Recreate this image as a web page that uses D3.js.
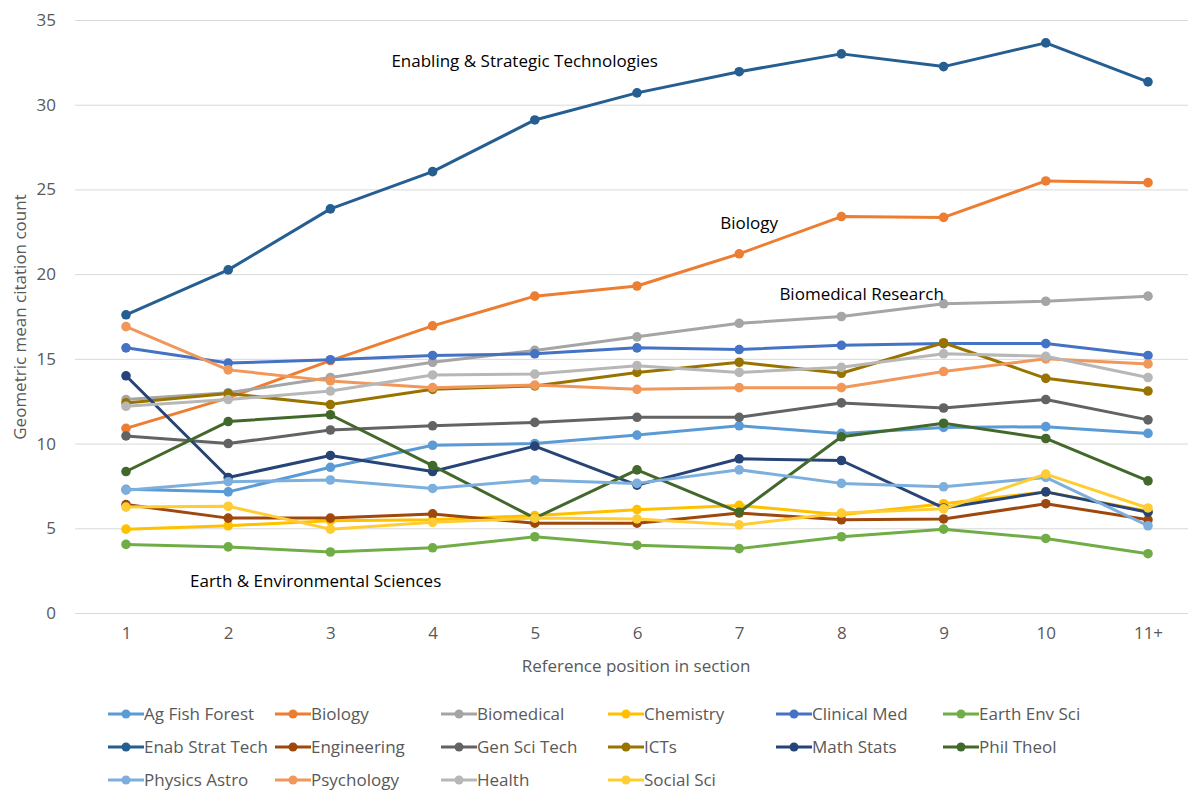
<!DOCTYPE html>
<html><head><meta charset="utf-8">
<script src="https://cdn.jsdelivr.net/npm/d3@7"></script>
<style>body{margin:0;background:#fff;} svg{display:block;} text{font-family:"Open Sans",sans-serif;}</style>
</head><body><svg id="c" width="1188" height="793"></svg>
<script>
const categories = ["1","2","3","4","5","6","7","8","9","10","11+"];
const yTicks = [0,5,10,15,20,25,30,35];

const agFishForest = [7.3,7.15,8.6,9.9,10.0,10.5,11.05,10.6,10.95,11.0,10.6];
const biology      = [10.9,12.7,14.9,16.95,18.7,19.3,21.2,23.4,23.35,25.5,25.4];
const biomedical   = [12.6,13.0,13.9,14.8,15.5,16.3,17.1,17.5,18.25,18.4,18.7];
const chemistry    = [4.95,5.15,5.45,5.5,5.75,6.1,6.35,5.8,6.45,7.15,6.0];
const clinicalMed  = [15.65,14.75,14.95,15.2,15.3,15.65,15.55,15.8,15.9,15.9,15.2];
const earthEnvSci  = [4.05,3.9,3.6,3.85,4.5,4.0,3.8,4.5,4.95,4.4,3.5];
const enabStratTech= [17.6,20.25,23.85,26.05,29.1,30.7,31.95,33.0,32.25,33.65,31.35];
const engineering  = [6.4,5.6,5.6,5.85,5.3,5.3,5.9,5.5,5.55,6.45,5.5];
const genSciTech   = [10.45,10.0,10.8,11.05,11.25,11.55,11.55,12.4,12.1,12.6,11.4];
const icts         = [12.4,12.95,12.3,13.2,13.4,14.2,14.8,14.15,15.95,13.85,13.1];
const mathStats    = [14.0,8.0,9.3,8.35,9.85,7.55,9.1,9.0,6.2,7.15,5.95];
const philTheol    = [8.35,11.3,11.7,8.7,5.6,8.45,5.95,10.4,11.2,10.3,7.8];
const physicsAstro = [7.25,7.75,7.85,7.35,7.85,7.65,8.45,7.65,7.45,8.0,5.15];
const psychology   = [16.9,14.35,13.7,13.3,13.45,13.2,13.3,13.3,14.25,15.0,14.7];
const health       = [12.2,12.6,13.1,14.05,14.1,14.6,14.2,14.5,15.3,15.15,13.9];
const socialSci    = [6.25,6.3,4.95,5.35,5.6,5.55,5.2,5.9,6.15,8.2,6.2];

const seriesNames = ["Ag Fish Forest","Biology","Biomedical","Chemistry","Clinical Med","Earth Env Sci",
  "Enab Strat Tech","Engineering","Gen Sci Tech","ICTs","Math Stats","Phil Theol",
  "Physics Astro","Psychology","Health","Social Sci"];
const seriesValues = [agFishForest,biology,biomedical,chemistry,clinicalMed,earthEnvSci,
  enabStratTech,engineering,genSciTech,icts,mathStats,philTheol,physicsAstro,psychology,health,socialSci];
const seriesColors = ["#5B9BD5","#ED7D31","#A5A5A5","#FFC000","#4472C4","#70AD47",
  "#255E91","#9E480E","#636363","#997300","#264478","#43682B",
  "#7CAFDD","#F1975A","#B7B7B7","#FFCD33"];

const annotations = [
  {text:"Enabling & Strategic Technologies", cat:"3", val:32.55, dx:61},
  {text:"Biology", cat:"7", val:23.0, dx:-19},
  {text:"Biomedical Research", cat:"8", val:18.8, dx:-62},
  {text:"Earth & Environmental Sciences", cat:"1", val:1.9, dx:64}
];

const FS = "17px";
const svg = d3.select("#c");
const x = d3.scalePoint().domain(categories).range([126,1148]);
const y = d3.scaleLinear().domain([0,35]).range([613,20]);

// gridlines
svg.append("g").selectAll("line").data(yTicks).join("line")
  .attr("x1",75).attr("x2",1200).attr("y1",d=>y(d)+0.5).attr("y2",d=>y(d)+0.5)
  .attr("stroke","#D9D9D9").attr("stroke-width",1);

// y axis labels
const yAxis = d3.axisLeft(y).tickValues(yTicks).tickSize(0).tickPadding(0);
const gy = svg.append("g").attr("transform","translate(56,0)").call(yAxis);
gy.select(".domain").remove();
gy.selectAll("text").attr("fill","#595959").style("font-size",FS).style("font-family","'Open Sans',sans-serif");

// x axis labels
const xAxis = d3.axisBottom(x).tickSize(0).tickPadding(0);
const gx = svg.append("g").attr("transform","translate(0,627)").call(xAxis);
gx.select(".domain").remove();
gx.selectAll("text").attr("fill","#595959").style("font-size",FS).style("font-family","'Open Sans',sans-serif");

// axis titles
svg.append("text").attr("x",636).attr("y",666).attr("dy","0.35em").attr("text-anchor","middle")
  .attr("fill","#595959").style("font-size",FS).text("Reference position in section");
svg.append("text").attr("transform","translate(20,317) rotate(-90)").attr("dy","0.35em").attr("text-anchor","middle")
  .attr("fill","#595959").style("font-size",FS).text("Geometric mean citation count");

// lines
const line = d3.line().x((d,i)=>x(categories[i])).y(d=>y(d));
seriesValues.forEach((vals,si)=>{
  const g = svg.append("g");
  g.append("path").attr("d",line(vals)).attr("fill","none")
    .attr("stroke",seriesColors[si]).attr("stroke-width",3).attr("stroke-linejoin","round");
  g.selectAll("circle").data(vals).join("circle")
    .attr("cx",(d,i)=>x(categories[i])).attr("cy",d=>y(d)).attr("r",4.8)
    .attr("fill",seriesColors[si]);
});

// annotations
svg.append("g").selectAll("text").data(annotations).join("text")
  .attr("x",d=>x(d.cat)+d.dx).attr("y",d=>y(d.val)).attr("dy","0.35em")
  .attr("fill","#000").style("font-size",FS).text(d=>d.text);

// legend
const legX = [108,275,441,608,776,943];
const legY = [714,747,780];
const leg = svg.append("g").selectAll("g").data(seriesNames).join("g")
  .attr("transform",(d,i)=>`translate(${legX[i%6]},${legY[Math.floor(i/6)]})`);
leg.append("line").attr("x1",0).attr("x2",36).attr("y1",0).attr("y2",0)
  .attr("stroke",(d,i)=>seriesColors[i]).attr("stroke-width",3);
leg.append("circle").attr("cx",18).attr("cy",0).attr("r",4.5).attr("fill",(d,i)=>seriesColors[i]);
leg.append("text").attr("x",36).attr("y",0).attr("dy","0.35em")
  .attr("fill","#595959").style("font-size",FS).text(d=>d);
</script></body></html>
